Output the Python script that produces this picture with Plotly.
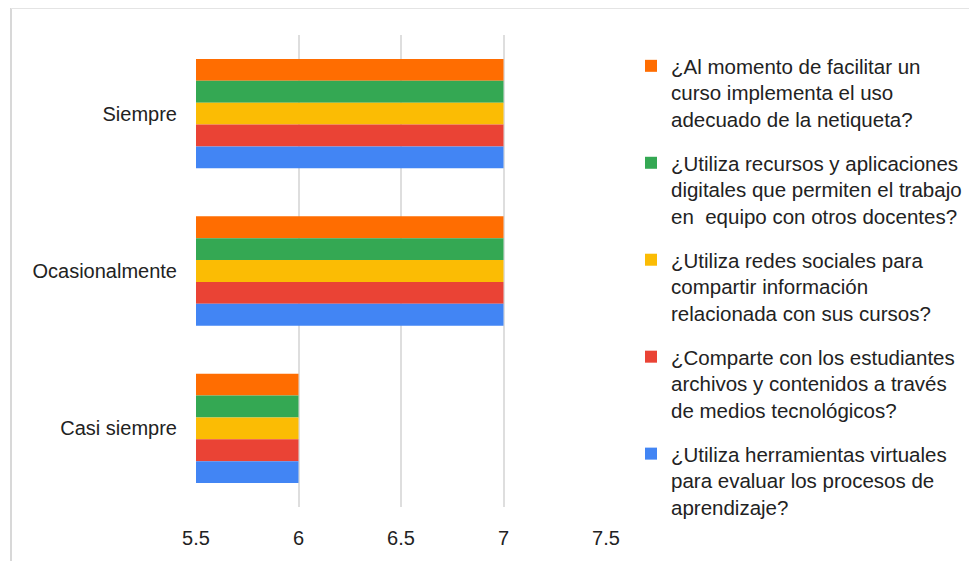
import plotly.graph_objects as go

categories = ["Siempre", "Ocasionalmente", "Casi siempre"]

series_names = [
    "¿Al momento de facilitar un<br>curso implementa el uso<br>adecuado de la netiqueta?",
    "¿Utiliza recursos y aplicaciones<br>digitales que permiten el trabajo<br>en  equipo con otros docentes?",
    "¿Utiliza redes sociales para<br>compartir información<br>relacionada con sus cursos?",
    "¿Comparte con los estudiantes<br>archivos y contenidos a través<br>de medios tecnológicos?",
    "¿Utiliza herramientas virtuales<br>para evaluar los procesos de<br>aprendizaje?",
]

netiqueta = [7, 7, 6]
recursos = [7, 7, 6]
redes = [7, 7, 6]
comparte = [7, 7, 6]
herramientas = [7, 7, 6]

series_values = [netiqueta, recursos, redes, comparte, herramientas]
colors = ["#FF6D01", "#34A853", "#FBBC04", "#EA4335", "#4285F4"]

tick_vals = [5.5, 6, 6.5, 7, 7.5]
tick_text = ["5.5", "6", "6.5", "7", "7.5"]

# page body has an 8px margin; figure coordinates = page coordinates - 8
OFF = 8
W, H = 977 - OFF, 561 - OFF
L, T = 196 - OFF, 35 - OFF
R = W - (606 - OFF)
B = H - (507 - OFF)
PW, PH = W - L - R, H - T - B


def px_x(p):
    return (p - OFF - L) / PW


def px_y(p):
    return (H - B - (p - OFF)) / PH


fig = go.Figure()
for i, (name, vals, col) in enumerate(zip(series_names, series_values, colors)):
    fig.add_trace(go.Bar(
        y=categories, x=vals, name=name, orientation="h",
        marker=dict(color=col, line=dict(width=0)),
        legendgroup=f"g{i}",
    ))

legend = dict(
    x=px_x(631), xanchor="left",
    y=px_y(46), yanchor="top",
    font=dict(size=20.5, color="#222222"),
    valign="top", traceorder="grouped", tracegroupgap=14,
    bgcolor="rgba(0,0,0,0)",
)

fig.update_layout(
    width=W, height=H,
    margin=dict(l=L, r=R, t=T, b=B, pad=0, autoexpand=False),
    paper_bgcolor="white", plot_bgcolor="white",
    barmode="group", bargap=0.305, bargroupgap=0,
    font=dict(family="Liberation Sans, Arial, sans-serif", color="#222222"),
    xaxis=dict(
        range=[5.5, 7.5], tickvals=tick_vals, ticktext=tick_text,
        showgrid=True, gridcolor="#dedede", gridwidth=1.5,
        zeroline=False, showline=False, ticks="",
        tickfont=dict(size=20, color="#222222"),
        ticklabelstandoff=17,
    ),
    yaxis=dict(
        autorange="reversed", showgrid=False, zeroline=False, showline=False,
        ticks="", ticklen=0, tickfont=dict(size=20, color="#222222"),
        ticklabelstandoff=18,
    ),
    legend=legend,
    showlegend=True,
    shapes=[
        dict(type="line", xref="paper", yref="paper",
             x0=px_x(11), x1=px_x(11), y0=px_y(0), y1=px_y(561),
             line=dict(color="#d8d8d8", width=2)),
        dict(type="line", xref="paper", yref="paper",
             x0=px_x(11), x1=px_x(977), y0=px_y(OFF), y1=px_y(OFF),
             line=dict(color="#e4e4e4", width=2)),
    ],
)

try:
    fig.update_layout(legend_maxheight=520)
except Exception:
    fig.update_layout(legend_tracegroupgap=10, legend_font_size=20)

fig.write_html("out.html")
